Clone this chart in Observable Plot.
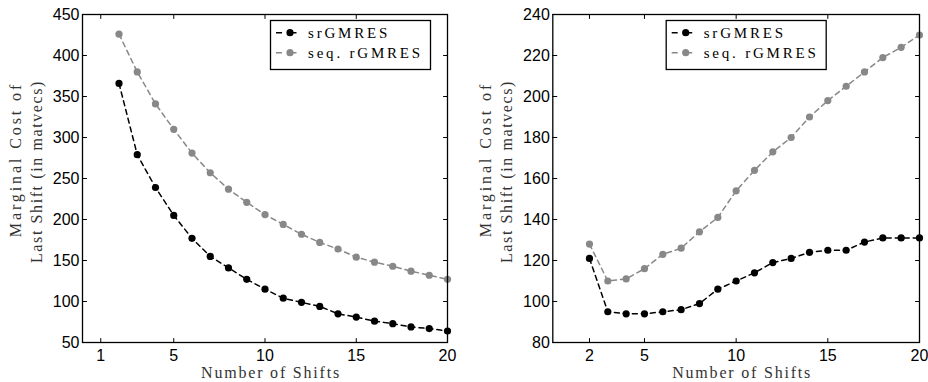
<!DOCTYPE html>
<html><head><meta charset="utf-8">
<script src="https://cdn.jsdelivr.net/npm/d3@7"></script>
<script src="https://cdn.jsdelivr.net/npm/@observablehq/plot@0.6"></script>
<style>
body{margin:0;background:#fff}
#wrap{display:flex;width:928px;height:382px;overflow:hidden}
</style>
</head><body><div id="wrap"></div>
<script>
const shifts = [2,3,4,5,6,7,8,9,10,11,12,13,14,15,16,17,18,19,20];
const leftSr  = [366,279,239,205,177,155,141,127,115,104,99,94,85,81,76,73,69,67,64];
const leftSeq = [426,380,341,310,281,257,237,221,206,194,182,172,164,154,148,143,137,132,127];
const rightSr  = [121,95,94,94,95,96,99,106,110,114,119,121,124,125,125,129,131,131,131];
const rightSeq = [128,110,111,116,123,126,134,141,154,164,173,180,190,198,205,212,219,224,230];
const leftYTicks = [50,100,150,200,250,300,350,400,450];
const rightYTicks = [80,100,120,140,160,180,200,220,240];
const leftXTicks = [1,5,10,15,20];
const rightXTicks = [2,5,10,15,20];
const seriesNames = ["srGMRES","seq. rGMRES"];
const seriesColors = ["#000000","#888888"];
const xLabel = "Number of Shifts";
const yLabel1 = "Marginal Cost of";
const yLabel2 = "Last Shift (in matvecs)";

const SERIF = "Liberation Serif";
const tickShape = {draw(ctx, l){ ctx.moveTo(0,0); ctx.lineTo(0,-l); }};
const spacing = {[xLabel]:"1.8px", [yLabel1]:"2.9px", [yLabel2]:"1.6px"};

function panel({width, marginLeft, marginRight, sr, seq, yDomain, yTicks, xTicks, legendX}) {
  const rows = s => shifts.map((x,i)=>({x, y:s[i]}));
  const series = [rows(sr), rows(seq)];
  const marks = [];
  series.forEach((d,i)=>{
    marks.push(Plot.line(d,{x:"x",y:"y",stroke:seriesColors[i],strokeWidth:1.5,strokeDasharray:"5,4"}));
    marks.push(Plot.dot(d,{x:"x",y:"y",fill:seriesColors[i],r:3.6}));
  });
  const tk = {length:4, anchor:"start", shape:tickShape, stroke:"#000", strokeWidth:1};
  const p = Plot.plot({
    width, height:382,
    marginLeft, marginRight, marginTop:14, marginBottom:40,
    style:{fontFamily:"Liberation Sans", fontSize:"16px", background:"#fff", color:"#000"},
    x:{domain:[0,20]},
    y:{domain:yDomain},
    marks:[
      ...marks,
      Plot.vector(xTicks,{x:d=>d, y:yDomain[0], rotate:0, ...tk}),
      Plot.vector(xTicks,{x:d=>d, y:yDomain[1], rotate:180, ...tk}),
      Plot.vector(yTicks,{y:d=>d, x:0, rotate:90, ...tk}),
      Plot.vector(yTicks,{y:d=>d, x:20, rotate:270, ...tk}),
      Plot.axisX(xTicks,{anchor:"bottom",tickSize:0,tickPadding:7,label:null,fontSize:16}),
      Plot.axisY(yTicks,{anchor:"left",tickSize:0,tickPadding:3,label:null,fontSize:16}),
      Plot.frame({stroke:"#000",strokeWidth:1.3}),
      Plot.text([xLabel],{frameAnchor:"bottom",text:d=>d,dy:30,dx:6,textAnchor:"middle",fontFamily:SERIF,fontSize:16,fill:"#333",lineAnchor:"middle"}),
      Plot.text([yLabel1],{frameAnchor:"left",text:d=>d,rotate:-90,textAnchor:"middle",dx:15-marginLeft,dy:-19,fontFamily:SERIF,fontSize:16,fill:"#333"}),
      Plot.text([yLabel2],{frameAnchor:"left",text:d=>d,rotate:-90,textAnchor:"middle",dx:36-marginLeft,dy:-7,fontFamily:SERIF,fontSize:16,fill:"#333"})
    ]
  });
  const svg = d3.select(p);
  svg.selectAll("text").each(function(){
    const s = spacing[this.textContent];
    if (s) d3.select(this).attr("letter-spacing", s);
  });
  // legend
  const g = svg.append("g").attr("transform",`translate(${legendX},20)`).attr("text-anchor","start");
  g.append("rect").attr("x",0.5).attr("y",0.5).attr("width",160).attr("height",49).attr("fill","#fff").attr("stroke","#000").attr("stroke-width",1.3);
  seriesNames.forEach((name,i)=>{
    const yy = 12.7 + i*20;
    g.append("line").attr("x1",6).attr("x2",33).attr("y1",yy).attr("y2",yy).attr("stroke",seriesColors[i]).attr("stroke-width",1.5).attr("stroke-dasharray","6,8.5");
    g.append("circle").attr("cx",20).attr("cy",yy).attr("r",3.6).attr("fill",seriesColors[i]);
    g.append("text").attr("x",38).attr("y",yy).attr("dy","0.32em").attr("text-anchor","start").attr("font-family",SERIF).attr("font-size",15).attr("letter-spacing","2.8px").attr("fill","#000").text(name);
  });
  return p;
}

const wrap = document.getElementById("wrap");
wrap.append(panel({width:470, marginLeft:82, marginRight:23, sr:leftSr, seq:leftSeq, yDomain:[50,450], yTicks:leftYTicks, xTicks:leftXTicks, legendX:270}));
wrap.append(panel({width:458, marginLeft:82.3, marginRight:9, sr:rightSr, seq:rightSeq, yDomain:[80,240], yTicks:rightYTicks, xTicks:rightXTicks, legendX:195.7}));
</script>
</body></html>
